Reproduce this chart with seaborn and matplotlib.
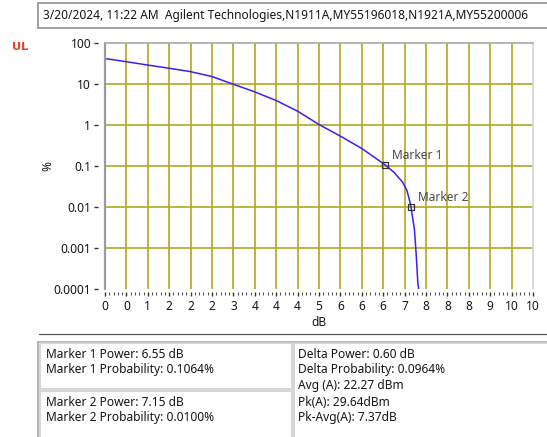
import numpy as np
import pandas as pd
import seaborn as sns
import matplotlib
matplotlib.use("Agg")
from matplotlib import pyplot as plt
from matplotlib.patches import Rectangle
from matplotlib.ticker import FixedLocator, FixedFormatter, MultipleLocator, NullLocator

# CCDF curve
power_db = [0.0, 0.5, 1.0, 1.5, 2.0, 2.5, 3.0, 3.5, 4.0, 4.5, 5.0, 5.5, 6.0, 6.5,
            6.55, 6.75, 6.95, 7.05, 7.1, 7.15, 7.23, 7.27, 7.31, 7.33]
prob_pct = [42.5, 35.5, 29.4, 24.6, 20.3, 15.4, 10.0, 6.5, 4.0, 2.2, 1.04, 0.54, 0.27, 0.116,
            0.1064, 0.071, 0.041, 0.026, 0.017, 0.0100, 0.0028, 0.00072, 0.000135, 0.0001]

marker_names = ["Marker 1", "Marker 2"]
marker_power = [6.55, 7.15]
marker_prob = [0.1064, 0.0100]

x_ticks = [i * 0.5 for i in range(21)]
x_tick_labels = ["0", "0", "1", "2", "2", "2", "3", "4", "4", "4", "5",
                 "6", "6", "6", "7", "8", "8", "8", "9", "10", "10"]
y_ticks = [0.0001, 0.001, 0.01, 0.1, 1, 10, 100]
y_tick_labels = ["0.0001", "0.001", "0.01", "0.1", "1", "10", "100"]

header = "3/20/2024, 11:22 AM  Agilent Technologies,N1911A,MY55196018,N1921A,MY55200006"
left_top = ["Marker 1 Power: 6.55 dB", "Marker 1 Probability: 0.1064%"]
left_bottom = ["Marker 2 Power: 7.15 dB", "Marker 2 Probability: 0.0100%"]
right_lines = ["Delta Power: 0.60 dB", "Delta Probability: 0.0964%", "Avg (A): 22.27 dBm",
               "Pk(A): 29.64dBm", "Pk-Avg(A): 7.37dB"]

sns.set_style("white")
plt.rcParams["font.family"] = ["Noto Sans", "DejaVu Sans"]

W, H = 547, 437
GRID = "#b0a81a"
FS = 8.6
TXT = "#161616"


def fx(x):
    return x / W


def fy(y):
    return 1 - y / H


fig = plt.figure(figsize=(W / 100, H / 100), dpi=100)
ax = fig.add_axes([fx(105), fy(289), (533 - 105) / W, (289 - 43.3) / H])

df = pd.DataFrame({"power": power_db, "prob": prob_pct})
ax.set_yscale("log")
for x in x_ticks[1:-1]:
    ax.axvline(x, color=GRID, lw=1.2, zorder=1)
for y in y_ticks[1:-1]:
    ax.axhline(y, color=GRID, lw=1.2, zorder=1)

sns.lineplot(data=df, x="power", y="prob", ax=ax, color="#3b1ef5", lw=1.1,
             estimator=None, sort=False, zorder=3)
sns.scatterplot(x=marker_power, y=marker_prob, ax=ax, marker="s", s=20,
                facecolors="none", edgecolors="#333333", linewidth=0.9, zorder=4)
for name, xp, yp in zip(marker_names, marker_power, marker_prob):
    ax.annotate(name, (xp, yp), xytext=(7, 10), textcoords="offset pixels",
                ha="left", va="center", fontsize=FS, color="#4a4a4a")

ax.set_xlim(0, 10)
ax.set_ylim(0.0001, 100)

# frame like the instrument panel
ax.axvline(0, color="#9c9c9c", lw=1.6, clip_on=False, zorder=5)
ax.axvline(10, color="#d4d4d4", lw=1.2, clip_on=False, zorder=5)
ax.axhline(100, color="#a8a8a8", lw=1.2, clip_on=False, zorder=5)
for s in ["left", "bottom", "top", "right"]:
    ax.spines[s].set_visible(False)
ax.spines["left"].set_position(("outward", 5))
ax.spines["bottom"].set_position(("outward", 2.5))

ax.xaxis.set_major_locator(FixedLocator(x_ticks))
ax.xaxis.set_major_formatter(FixedFormatter(x_tick_labels))
ax.xaxis.set_minor_locator(MultipleLocator(0.1))
ax.yaxis.set_major_locator(FixedLocator(y_ticks))
ax.yaxis.set_major_formatter(FixedFormatter(y_tick_labels))
ax.yaxis.set_minor_locator(NullLocator())
ax.tick_params(axis="x", which="major", bottom=True, length=3, width=1, color="#333333",
               labelsize=FS, labelcolor=TXT, pad=2.5)
ax.tick_params(axis="x", which="minor", bottom=True, length=2, width=0.8, color="#555555")
ax.tick_params(axis="y", which="major", left=True, length=3, width=1, color="#333333",
               labelsize=FS, labelcolor=TXT, pad=2)
ax.set_xlabel("dB", fontsize=FS, color=TXT, labelpad=2)
ax.set_ylabel("")
fig.text(fx(48), fy(166), "%", rotation=90, ha="center", va="center",
         fontsize=FS, color=TXT)
fig.text(fx(20), fy(47), "UL", ha="center", va="center", fontsize=8.2,
         fontweight="bold", family="DejaVu Sans", color="#f03c28")

# header box
fig.patches.append(Rectangle((fx(38), fy(28)), fx(520), 25 / H, transform=fig.transFigure,
                             facecolor="white", edgecolor="#a0a0a0", lw=1.4))
fig.text(fx(43), fy(15.5), header, ha="left", va="center", fontsize=FS, color=TXT)

# separator + info table
fig.add_artist(plt.Line2D([fx(39), 1], [fy(333.5), fy(333.5)], transform=fig.transFigure,
                          color="#5a5a5a", lw=0.9))
fig.patches.append(Rectangle((fx(37.5), fy(440)), fx(520), 98 / H, transform=fig.transFigure,
                             facecolor="white", edgecolor="#a8a8a8", lw=1.2))
for (x0, y0, w, h) in [(40, 343, 252, 46), (40, 391, 252, 50), (294, 343, 260, 98)]:
    fig.patches.append(Rectangle((fx(x0), fy(y0 + h)), fx(w), h / H, transform=fig.transFigure,
                                 facecolor="white", edgecolor="#d0d0d0", lw=1.2))
for i, t in enumerate(left_top):
    fig.text(fx(46), fy(354 + 16 * i), t, ha="left", va="center", fontsize=FS, color=TXT)
for i, t in enumerate(left_bottom):
    fig.text(fx(46), fy(402 + 16 * i), t, ha="left", va="center", fontsize=FS, color=TXT)
for i, t in enumerate(right_lines):
    fig.text(fx(298), fy(354 + 16 * i), t, ha="left", va="center", fontsize=FS, color=TXT)

fig.savefig("out.png", dpi=100)
